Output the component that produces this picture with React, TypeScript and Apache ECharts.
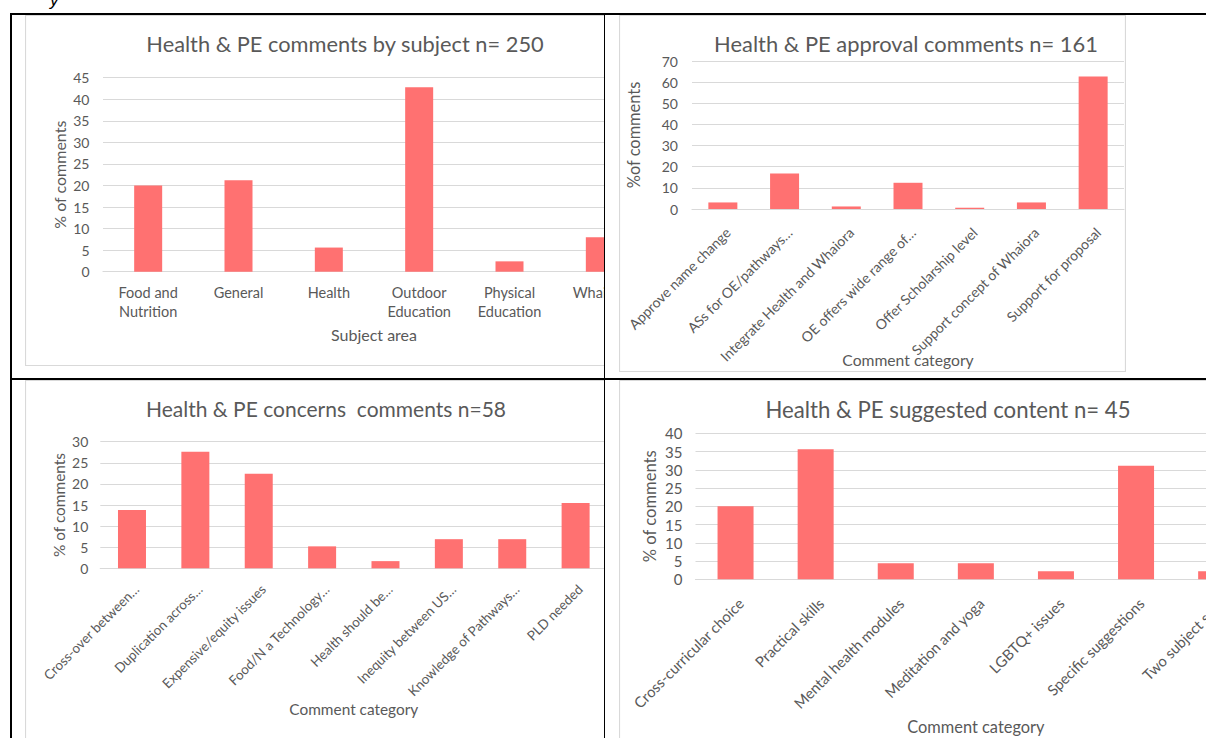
import React, { useEffect, useRef } from "react";
import * as echarts from "echarts";

const FONT = "Lato, 'Open Sans', sans-serif";
const TEXT_COLOR = "#595959";
const BAR_COLOR = "#FF7171";
const GRID_COLOR = "#D9D9D9";

// Chart 1
const subjectTitle = "Health & PE comments by subject n= 250";
const subjectCategories = ["Food and\nNutrition", "General", "Health", "Outdoor\nEducation", "Physical\nEducation", "Whaiora"];
const subjectValues = [20, 21.2, 5.6, 42.8, 2.4, 8];
const subjectYMax = 45;
const subjectYStep = 5;

// Chart 2
const approvalTitle = "Health & PE approval comments n= 161";
const approvalCategories = [
  "Approve name change",
  "ASs for OE/pathways…",
  "Integrate Health and Whaiora",
  "OE offers wide range of…",
  "Offer Scholarship level",
  "Support concept of Whaiora",
  "Support for proposal",
];
const approvalValues = [3.1, 16.8, 1.2, 12.4, 0.6, 3.1, 62.7];
const approvalYMax = 70;
const approvalYStep = 10;

// Chart 3
const concernsTitle = "Health & PE concerns  comments n=58";
const concernsCategories = [
  "Cross-over between…",
  "Duplication across…",
  "Expensive/equity issues",
  "Food/N a Technology…",
  "Health should be…",
  "Inequity between US…",
  "Knowledge of Pathways…",
  "PLD needed",
];
const concernsValues = [13.8, 27.6, 22.4, 5.2, 1.7, 6.9, 6.9, 15.5];
const concernsYMax = 30;
const concernsYStep = 5;

// Chart 4
const contentTitle = "Health & PE suggested content n= 45";
const contentCategories = [
  "Cross-curricular choice",
  "Practical skills",
  "Mental health modules",
  "Meditation and yoga",
  "LGBTQ+ issues",
  "Specific suggestions",
  "Two subject split",
];
const contentValues = [20, 35.6, 4.4, 4.4, 2.2, 31.1, 2.2];
const contentYMax = 40;
const contentYStep = 5;

type Cfg = {
  title: string;
  cats: string[];
  vals: number[];
  yMax: number;
  yStep: number;
  yName: string;
  xName: string;
  box: { left: number; top: number; width: number; height: number };
  grid: { left: number; top: number; right: number; bottom: number };
  titleX: number;
  titleY: number;
  titleSize: number;
  tickSize: number;
  labelSize: number;
  yNameSize: number;
  xNameSize: number;
  yNameGap: number;
  xNameGap: number;
  yLabelMargin: number;
  xLabelMargin: number;
  rotate: number;
  barWidth: number;
};

function buildOption(c: Cfg): any {
  const w = c.box.width;
  const h = c.box.height;
  return {
    animation: false,
    textStyle: { fontFamily: FONT },
    grid: { ...c.grid, containLabel: false, outerBoundsMode: "none" },
    graphic: [
      {
        type: "rect",
        silent: true,
        shape: { x: 0.5, y: 0.5, width: w - 1, height: h - 1 },
        style: { fill: "none", stroke: GRID_COLOR, lineWidth: 1.2 },
      },
      {
        type: "text",
        silent: true,
        x: c.titleX,
        y: c.titleY,
        style: {
          text: c.title,
          fill: TEXT_COLOR,
          fontSize: c.titleSize,
          fontFamily: FONT,
          align: "center",
          verticalAlign: "middle",
        },
      },
    ],
    xAxis: {
      type: "category",
      data: c.cats,
      axisTick: { show: false },
      axisLine: { lineStyle: { color: GRID_COLOR, width: 1.2 } },
      axisLabel: c.rotate
        ? {
            interval: 0,
            rotate: c.rotate,
            color: TEXT_COLOR,
            fontSize: c.labelSize,
            fontFamily: FONT,
            margin: c.xLabelMargin,
            verticalAlign: "top",
            hideOverlap: false,
          }
        : {
            interval: 0,
            color: TEXT_COLOR,
            fontSize: c.labelSize,
            fontFamily: FONT,
            margin: c.xLabelMargin,
            lineHeight: 19,
          },
      name: c.xName,
      nameLocation: "middle",
      nameGap: c.xNameGap,
      nameMoveOverlap: false,
      nameTextStyle: { color: TEXT_COLOR, fontSize: c.xNameSize, fontFamily: FONT },
    },
    yAxis: {
      type: "value",
      min: 0,
      max: c.yMax,
      interval: c.yStep,
      axisLine: { show: false },
      axisTick: { show: false },
      splitLine: { lineStyle: { color: GRID_COLOR, width: 1.2 } },
      axisLabel: { color: TEXT_COLOR, fontSize: c.tickSize, fontFamily: FONT, margin: c.yLabelMargin },
      name: c.yName,
      nameLocation: "middle",
      nameGap: c.yNameGap,
      nameMoveOverlap: false,
      nameTextStyle: { color: TEXT_COLOR, fontSize: c.yNameSize, fontFamily: FONT },
    },
    series: [
      {
        type: "bar",
        data: c.vals,
        barWidth: c.barWidth,
        itemStyle: { color: BAR_COLOR },
      },
    ],
  };
}

function BarChart({ cfg }: { cfg: Cfg }) {
  const ref = useRef<HTMLDivElement>(null);
  useEffect(() => {
    const chart = echarts.init(ref.current as HTMLDivElement, undefined, { renderer: "svg" });
    chart.setOption(buildOption(cfg));
    return () => chart.dispose();
  }, []);
  return (
    <div
      ref={ref}
      style={{
        position: "absolute",
        left: cfg.box.left,
        top: cfg.box.top,
        width: cfg.box.width,
        height: cfg.box.height,
      }}
    />
  );
}

const chart1: Cfg = {
  title: subjectTitle,
  cats: subjectCategories,
  vals: subjectValues,
  yMax: subjectYMax,
  yStep: subjectYStep,
  yName: "% of comments",
  xName: "Subject area",
  box: { left: 25, top: 15, width: 640, height: 351 },
  grid: { left: 78, top: 62.7, right: 20, bottom: 94.3 },
  titleX: 320,
  titleY: 28,
  titleSize: 21.8,
  tickSize: 14,
  labelSize: 14.5,
  yNameSize: 16,
  xNameSize: 16,
  yNameGap: 36,
  xNameGap: 55,
  yLabelMargin: 13.5,
  xLabelMargin: 11,
  rotate: 0,
  barWidth: 28,
};

const chart2: Cfg = {
  title: approvalTitle,
  cats: approvalCategories,
  vals: approvalValues,
  yMax: approvalYMax,
  yStep: approvalYStep,
  yName: "%of comments",
  xName: "Comment category",
  box: { left: 619, top: 15, width: 507, height: 357 },
  grid: { left: 73, top: 46, right: 2, bottom: 163 },
  titleX: 287,
  titleY: 28,
  titleSize: 21.9,
  tickSize: 14,
  labelSize: 14,
  yNameSize: 16.4,
  xNameSize: 15.7,
  yNameGap: 51,
  xNameGap: 143,
  yLabelMargin: 14,
  xLabelMargin: 16,
  rotate: 45,
  barWidth: 29,
};

const chart3: Cfg = {
  title: concernsTitle,
  cats: concernsCategories,
  vals: concernsValues,
  yMax: concernsYMax,
  yStep: concernsYStep,
  yName: "% of comments",
  xName: "Comment category",
  box: { left: 25, top: 380, width: 600, height: 370 },
  grid: { left: 75.3, top: 61.7, right: 17.7, bottom: 181.7 },
  titleX: 301,
  titleY: 28,
  titleSize: 21,
  tickSize: 14,
  labelSize: 13.4,
  yNameSize: 15.4,
  xNameSize: 15.4,
  yNameGap: 34,
  xNameGap: 133,
  yLabelMargin: 12,
  xLabelMargin: 14,
  rotate: 45,
  barWidth: 28,
};

const chart4: Cfg = {
  title: contentTitle,
  cats: contentCategories,
  vals: contentValues,
  yMax: contentYMax,
  yStep: contentYStep,
  yName: "% of comments",
  xName: "Comment category",
  box: { left: 619, top: 380, width: 660, height: 370 },
  grid: { left: 76.5, top: 53.3, right: 22.8, bottom: 170.7 },
  titleX: 329,
  titleY: 29,
  titleSize: 22.2,
  tickSize: 15,
  labelSize: 14.8,
  yNameSize: 16.6,
  xNameSize: 16.4,
  yNameGap: 37.5,
  xNameGap: 139,
  yLabelMargin: 13,
  xLabelMargin: 16,
  rotate: 45,
  barWidth: 36,
};

export default function App() {
  const line = (l: number, t: number, w: number, h: number) => (
    <div style={{ position: "absolute", left: l, top: t, width: w, height: h, background: "#000" }} />
  );
  return (
    <div
      style={{
        position: "fixed",
        left: 0,
        top: 0,
        width: 1206,
        height: 738,
        overflow: "hidden",
        background: "#fff",
      }}
    >
      <div
        style={{
          position: "absolute",
          left: 50,
          top: -9,
          fontFamily: "'Liberation Sans', sans-serif",
          fontStyle: "italic",
          fontSize: 17,
          color: "#000",
        }}
      >
        y
      </div>
      <div style={{ position: "absolute", left: 0, top: 0, width: 604, height: 738, overflow: "hidden" }}>
        <BarChart cfg={chart1} />
        <BarChart cfg={chart3} />
      </div>
      <BarChart cfg={chart2} />
      <BarChart cfg={chart4} />
      {line(10, 13, 1196, 2)}
      {line(10, 13, 2, 725)}
      {line(603.5, 13, 1.5, 725)}
      {line(10, 378, 1196, 1.7)}
    </div>
  );
}
